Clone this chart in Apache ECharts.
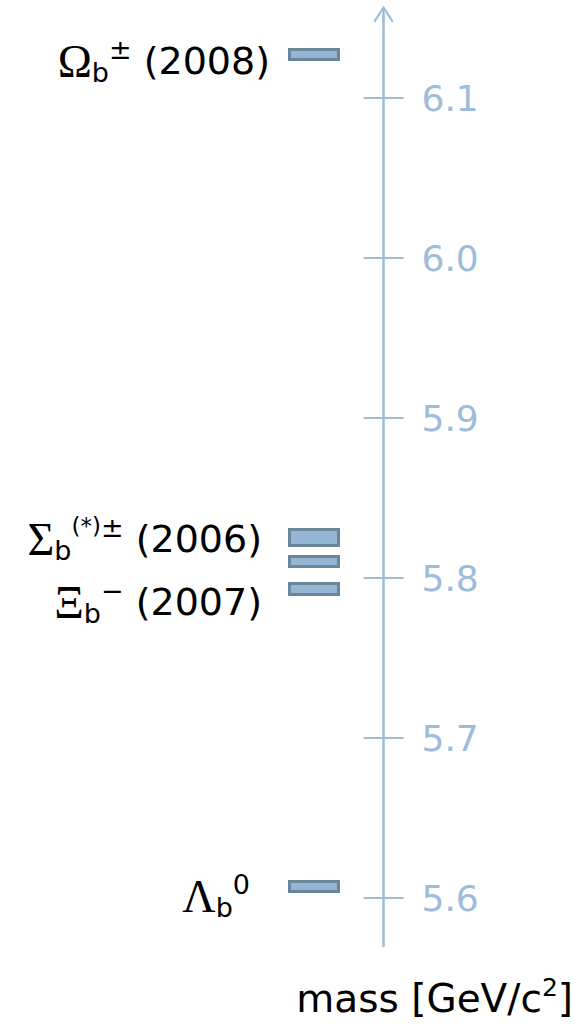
<!DOCTYPE html>
<html>
<head>
<meta charset="utf-8">
<style>
  html, body { margin: 0; padding: 0; background: #ffffff; }
  #chart { width: 578px; height: 1026px; }
</style>
<script src="https://cdn.jsdelivr.net/npm/echarts@6/dist/echarts.min.js"></script>
</head>
<body>
<div id="chart"></div>
<script>
// b-baryon mass levels (GeV/c^2): lower and upper edge of each level
const levelNames = ['Ωb±', 'Σb*±', 'Σb±', 'Ξb−', 'Λb0'];
const levelLow  = [6.1241, 5.8203, 5.8072, 5.7897, 5.6041];
const levelHigh = [6.1303, 5.8303, 5.8134, 5.7966, 5.6103];

// mass axis ticks
const tickValues = [5.6, 5.7, 5.8, 5.9, 6.0, 6.1];
const tickLabels = ['5.6', '5.7', '5.8', '5.9', '6.0', '6.1'];

const axisColor = '#9dbcd9';
const barFill = '#95b5d5';
const barEdge = '#6b8599';

const chart = echarts.init(document.getElementById('chart'), null, { renderer: 'svg' });

// open chevron arrow head with a stem, pointing up
const arrowPath = 'path://M10,0 L20,15.5 L18.4,17 L11,5.6 L11,17 L9,17 L9,5.6 L1.6,17 L0,15.5 Z';

const richBase = {
  g:   { fontFamily: 'Liberation Serif', fontSize: 46, lineHeight: 50, color: '#111' },
  t:   { fontFamily: 'DejaVu Sans', fontSize: 38, lineHeight: 50, color: '#111' },
  sub: { fontFamily: 'DejaVu Sans', fontSize: 27, lineHeight: 26, verticalAlign: 'bottom', color: '#111' },
  sup: { fontFamily: 'DejaVu Sans', fontSize: 27, lineHeight: 26, verticalAlign: 'top', color: '#111' },
  sups:{ fontFamily: 'DejaVu Sans', fontSize: 23, lineHeight: 26, verticalAlign: 'top', color: '#111' }
};

function label(x, y, text) {
  return {
    type: 'text', x: x, y: y,
    style: { text: text, align: 'right', verticalAlign: 'middle', rich: richBase }
  };
}

const tickStyle = { color: axisColor, width: 2 };

const option = {
  animation: false,
  backgroundColor: '#ffffff',
  grid: { left: 280, right: 578 - 383.5, top: 14, bottom: 1026 - 946 },
  xAxis: { type: 'value', min: 0, max: 1, show: false },
  yAxis: [
    {
      type: 'value', position: 'right', min: 5.57, max: 6.1525,
      axisLine: {
        show: true, onZero: false, symbol: ['none', arrowPath], symbolSize: [20, 17], symbolOffset: [0, 0],
        lineStyle: { color: axisColor, width: 2.5 }
      },
      axisTick: { show: true, inside: false, length: 20, customValues: tickValues, lineStyle: tickStyle },
      axisLabel: {
        show: true, customValues: tickValues, margin: 38,
        formatter: v => tickLabels[tickValues.findIndex(t => Math.abs(t - v) < 1e-6)],
        color: axisColor, fontFamily: 'DejaVu Sans', fontSize: 36, padding: [18, 0, 0, 0]
      },
      splitLine: { show: false }
    },
    {
      type: 'value', position: 'right', min: 5.57, max: 6.1525,
      axisLine: { show: false, onZero: false },
      axisTick: { show: true, inside: true, length: 20, customValues: tickValues, lineStyle: tickStyle },
      axisLabel: { show: false },
      splitLine: { show: false }
    }
  ],
  series: [{
    type: 'custom',
    name: 'levels',
    data: levelLow.map((lo, i) => [levelNames[i], lo, levelHigh[i]]),
    dimensions: ['name', 'low', 'high'],
    encode: { y: [1, 2] },
    renderItem: function (params, api) {
      const cs = params.coordSys;
      const top = api.coord([0, api.value(2)])[1];
      const bottom = api.coord([0, api.value(1)])[1];
      const x0 = cs.x + 9.5;
      return {
        type: 'rect',
        shape: { x: x0, y: top, width: 49, height: bottom - top },
        style: { fill: barFill, stroke: barEdge, lineWidth: 3 }
      };
    }
  }],
  graphic: [
    label(270, 61, '{g|Ω}{sub|b}{sup|±}{t| (2008)}'),
    label(262, 539, '{g|Σ}{sub|b}{sups|(*)}{sup|±}{t| (2006)}'),
    label(262, 602, '{g|Ξ}{sub|b}{sup|−}{t| (2007)}'),
    label(250, 896, '{g|Λ}{sub|b}{sup|0}'),
    {
      type: 'text', x: 573, y: 998,
      style: { text: '{t|mass [GeV/c}{s|2}{t|]}', align: 'right', verticalAlign: 'middle',
        rich: {
          t: { fontFamily: 'DejaVu Sans', fontSize: 39, lineHeight: 46, color: '#111' },
          s: { fontFamily: 'DejaVu Sans', fontSize: 25, lineHeight: 26, verticalAlign: 'top', color: '#111' }
        } }
    }
  ]
};

chart.setOption(option);
</script>
</body>
</html>
